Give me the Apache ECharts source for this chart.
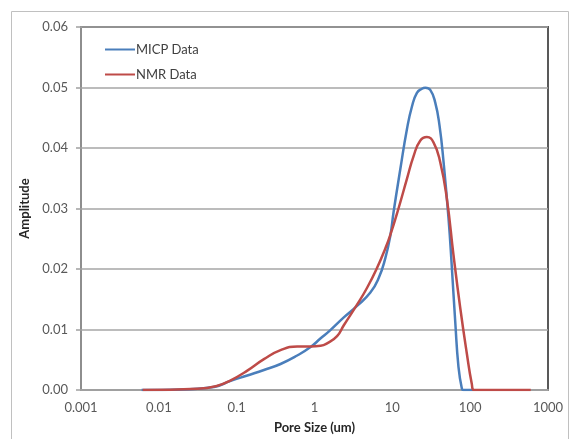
<!DOCTYPE html>
<html>
<head>
<meta charset="utf-8">
<script src="https://cdn.jsdelivr.net/npm/echarts@6/dist/echarts.min.js"></script>
<style>
html,body{margin:0;padding:0;background:#fff;}
#chart{width:570px;height:439px;}
</style>
</head>
<body>
<div id="chart"></div>
<script>
const seriesNames = ['MICP Data', 'NMR Data'];
const xTicks = [0.001, 0.01, 0.1, 1, 10, 100, 1000];
const yTicks = [0, 0.01, 0.02, 0.03, 0.04, 0.05, 0.06];

const micpX = [0.006, 0.02, 0.051, 0.0838, 0.137, 0.224, 0.366, 0.6, 0.89, 1.19, 1.6, 2.38, 3.52, 5.22, 6.68, 8.13, 9.42, 10.4, 12.7, 15.4, 17.9, 20.7, 24.0, 26.5, 30.7, 35.6, 40.4, 45.5, 52.7, 58.2, 64.2, 70.8, 78.3, 82, 110];
const micpY = [0, 0.0001, 0.0005, 0.0015, 0.0024, 0.0033, 0.0043, 0.0057, 0.0071, 0.0085, 0.0099, 0.012, 0.0139, 0.0161, 0.0185, 0.0218, 0.0255, 0.0295, 0.0366, 0.0431, 0.0469, 0.0491, 0.0498, 0.04995, 0.0496, 0.0475, 0.0437, 0.0377, 0.0284, 0.0202, 0.0114, 0.0038, 0.0002, 0, 0];

const nmrX = [0.0062, 0.0313, 0.0566, 0.0838, 0.137, 0.224, 0.366, 0.6, 0.89, 1.2, 1.45, 1.95, 2.38, 3.52, 4.74, 6.37, 8.13, 9.4, 12.0, 15.4, 18.8, 22.8, 27.8, 33.9, 41.2, 50.2, 61.1, 74.5, 90.7, 105, 112, 600];
const nmrY = [0, 0.0002, 0.0007, 0.0016, 0.0032, 0.0051, 0.0066, 0.0072, 0.0072, 0.0073, 0.0077, 0.0089, 0.0107, 0.0141, 0.0169, 0.0202, 0.0234, 0.0256, 0.03, 0.0349, 0.0387, 0.0412, 0.0418, 0.0409, 0.0377, 0.0316, 0.0223, 0.0136, 0.006, 0.001, 0, 0];

const pairs = (xs, ys) => xs.map((x, i) => [x, ys[i]]);

const chart = echarts.init(document.getElementById('chart'));
const labelStyle = { color: '#595959', fontFamily: 'Lato', fontSize: 13 };
chart.setOption({
  animation: false,
  backgroundColor: '#fff',
  graphic: [{
    type: 'rect', z: -10,
    shape: { x: 11.5, y: 11.5, width: 557, height: 450 },
    style: { fill: 'none', stroke: '#c0c0c0', lineWidth: 1 }
  }],
  grid: { left: 81, right: 22, top: 27, bottom: 46, show: true, borderColor: '#595959', borderWidth: 2, backgroundColor: 'transparent' },
  legend: {
    orient: 'vertical', left: 100, top: 38, itemGap: 12,
    itemWidth: 30, itemHeight: 2, icon: 'rect',
    textStyle: { color: '#404040', fontFamily: 'Lato', fontSize: 13, padding: [0, 0, 0, -4] },
    data: seriesNames
  },
  xAxis: {
    type: 'log', logBase: 10, min: xTicks[0], max: xTicks[xTicks.length - 1],
    name: 'Pore Size (um)', nameLocation: 'middle', nameGap: 31,
    nameTextStyle: { color: '#262626', fontFamily: 'Lato', fontSize: 13, fontWeight: 'bold' },
    axisLine: { show: true, lineStyle: { color: '#a0a0a0', width: 2 } },
    axisTick: { show: false },
    splitLine: { show: false },
    minorTick: { show: false },
    axisLabel: Object.assign({ margin: 11, formatter: v => String(+Number(v).toPrecision(3)) }, labelStyle)
  },
  yAxis: {
    type: 'value', min: yTicks[0], max: yTicks[yTicks.length - 1], interval: 0.01,
    name: 'Amplitude', nameLocation: 'middle', nameGap: 47,
    nameTextStyle: { color: '#262626', fontFamily: 'Lato', fontSize: 13, fontWeight: 'bold' },
    axisLine: { show: true, lineStyle: { color: '#a0a0a0', width: 1.5 } },
    axisTick: { show: true, length: 5, lineStyle: { color: '#a0a0a0', width: 1.5 } },
    splitLine: { show: true, lineStyle: { color: '#a6a6a6', width: 1.5 } },
    axisLabel: Object.assign({ margin: 13, formatter: v => v.toFixed(2) }, labelStyle)
  },
  series: [
    {
      name: seriesNames[0], type: 'line', data: pairs(micpX, micpY),
      smooth: 0.5, smoothConstraint: false, showSymbol: false, symbol: 'none',
      lineStyle: { color: '#4a7ebb', width: 2.5 }, itemStyle: { color: '#4a7ebb' }, z: 3
    },
    {
      name: seriesNames[1], type: 'line', data: pairs(nmrX, nmrY),
      smooth: 0.5, smoothConstraint: false, showSymbol: false, symbol: 'none',
      lineStyle: { color: '#be4b48', width: 2.5 }, itemStyle: { color: '#be4b48' }, z: 4
    }
  ]
});
</script>
</body>
</html>
